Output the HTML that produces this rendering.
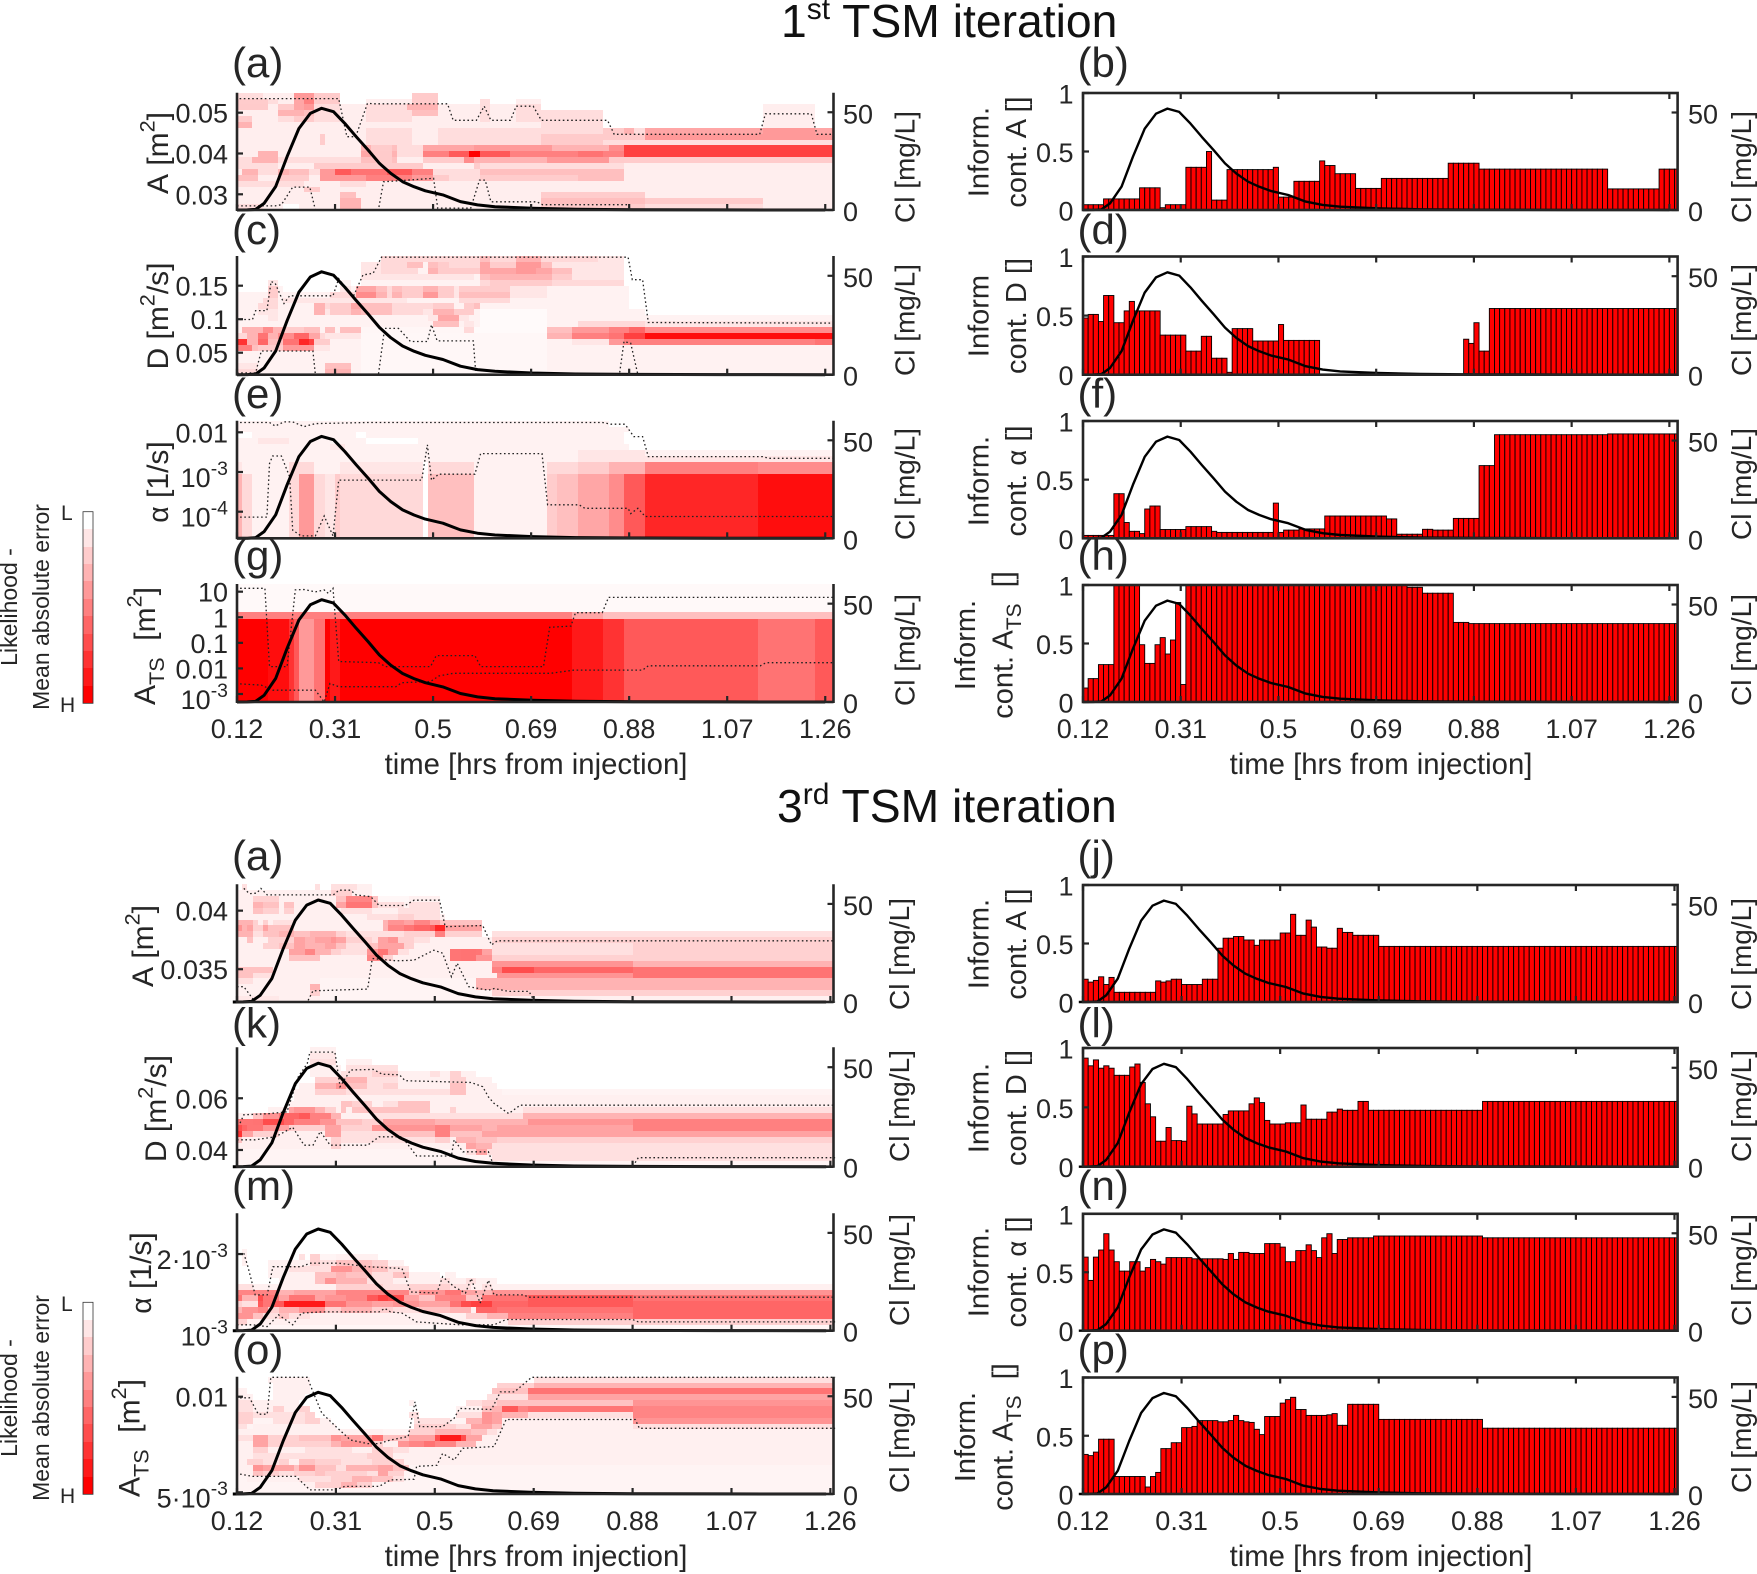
<!DOCTYPE html>
<html lang="en">
<head>
<meta charset="utf-8">
<title>TSM iteration chart</title>
<style>
html,body{margin:0;padding:0;background:#fff;}
svg{display:block;font-family:"Liberation Sans",Arial,sans-serif;fill:#262626;}
</style>
</head>
<body>
<svg id="chart" xmlns="http://www.w3.org/2000/svg" width="1757" height="1574" viewBox="0 0 1757 1574">
<rect x="0" y="0" width="1757" height="1574" fill="#fff"/>
<text x="781" y="37" font-size="46.3" fill="#111">1<tspan font-size="30" dy="-18">st</tspan><tspan dy="18"> TSM iteration</tspan></text>
<text x="777" y="822" font-size="46.3" fill="#111">3<tspan font-size="30" dy="-18">rd</tspan><tspan dy="18"> TSM iteration</tspan></text>
</svg>
<script>
// ---------- shared series ----------
const xTicks = [0.12, 0.31, 0.5, 0.69, 0.88, 1.07, 1.26];
const xTickLabels = ['0.12', '0.31', '0.5', '0.69', '0.88', '1.07', '1.26'];
const clTicks = [0, 50];
const infoTicks = [0, 0.5, 1];
const infoTickLabels = ['0', '0.5', '1'];
const clTime = [0.12,0.14,0.156,0.1725,0.195,0.217,0.24,0.262,0.284,0.307,0.329,0.351,0.374,0.396,0.418,0.441,0.463,0.485,0.519,0.553,0.586,0.62,0.692,0.776,0.888,1.055,1.26];
const clValue = [0,0.05,0.3,3.4,12,27.3,41.7,49.4,52,50.3,44.3,37.5,30.7,23.9,18.7,14.5,11.9,9.8,7.7,4.3,2.6,1.7,0.85,0.35,0.17,0.05,0];
const colorbarLevels = [0,2,4,6,8,10,12,14,16,18,20];

// ---------- informative content bars (one value per time step) ----------
const barsB = [.045,.045,.045,.045,.095,.095,.095,.095,.095,.095,.095,.19,.19,.19,.19,.02,.045,.045,.045,.045,.365,.365,.365,.365,.5,.085,.085,.085,.345,.345,.345,.345,.345,.345,.345,.345,.345,.365,.11,.11,.11,.245,.245,.245,.245,.245,.42,.38,.38,.31,.31,.31,.31,.185,.185,.185,.185,.185,.27,.27,.27,.27,.27,.27,.27,.27,.27,.27,.27,.27,.27,.4,.4,.4,.4,.4,.4,.35,.35,.35,.35,.35,.35,.35,.35,.35,.35,.35,.35,.35,.35,.35,.35,.35,.35,.35,.35,.35,.35,.35,.35,.35,.18,.18,.18,.18,.18,.18,.18,.18,.18,.18,.35,.35,.35,.35];
const barsD = [.48,.51,.51,.45,.67,.67,.44,.44,.54,.62,.54,.54,.54,.54,.54,.335,.335,.335,.335,.335,.2,.2,.2,.325,.325,.14,.14,.14,.02,.39,.39,.39,.39,.285,.285,.285,.285,.285,.425,.29,.29,.29,.29,.29,.29,.29,.005,.005,.005,.005,.005,.005,.005,.005,.005,.005,.005,.005,.005,.005,.005,.005,.005,.005,.005,.005,.005,.005,.005,.005,.005,.005,.005,.005,.3,.265,.44,.2,.2,.56,.56,.56,.56,.56,.56,.56,.56,.56,.56,.56,.56,.56,.56,.56,.56,.56,.56,.56,.56,.56,.56,.56,.56,.56,.56,.56,.56,.56,.56,.56,.56,.56,.56,.56,.56,.56];
const barsF = [.025,.025,.025,.025,.025,.025,.38,.38,.135,.06,.06,.04,.25,.275,.275,.075,.075,.075,.075,.075,.1,.1,.1,.1,.1,.06,.05,.05,.05,.05,.05,.05,.05,.05,.05,.05,.05,.3,.05,.07,.07,.07,.08,.08,.08,.08,.08,.19,.19,.19,.19,.19,.19,.19,.19,.19,.19,.19,.19,.165,.165,.035,.035,.035,.035,.035,.077,.077,.07,.07,.07,.07,.17,.17,.17,.17,.17,.62,.62,.62,.883,.883,.883,.883,.883,.883,.883,.883,.883,.883,.883,.883,.883,.883,.883,.883,.883,.883,.883,.883,.883,.883,.89,.89,.89,.89,.89,.89,.89,.89,.89,.89,.89,.89,.89,.89];
const barsH = [.12,.2,.2,.32,.32,.32,1,1,1,1,1,.49,.33,.33,.49,.55,.41,.53,.85,.15,1,1,1,1,1,1,1,1,1,1,1,1,1,1,1,1,1,1,1,1,1,1,1,1,1,1,1,1,1,1,1,1,1,1,1,1,1,1,1,1,1,1,1,.98,.98,.98,.93,.93,.93,.93,.93,.93,.68,.68,.68,.67,.67,.67,.67,.67,.67,.67,.67,.67,.67,.67,.67,.67,.67,.67,.67,.67,.67,.67,.67,.67,.67,.67,.67,.67,.67,.67,.67,.67,.67,.67,.67,.67,.67,.67,.67,.67,.67,.67,.67,.67,.67];
const barsJ = [.195,.17,.185,.215,.15,.21,.083,.083,.083,.083,.083,.083,.083,.083,.18,.17,.18,.195,.195,.15,.15,.15,.15,.195,.195,.195,.46,.545,.545,.56,.56,.53,.53,.485,.53,.53,.53,.53,.59,.59,.75,.57,.57,.7,.64,.47,.47,.46,.46,.63,.595,.595,.57,.57,.57,.57,.57,.475,.475,.475,.475,.475,.475,.475,.475,.475,.475,.475,.475,.475,.475,.475,.475,.475,.475,.475,.475,.475,.475,.475,.475,.475,.475,.475,.475,.475,.475,.475,.475,.475,.475,.475,.475,.475,.475,.475,.475,.475,.475,.475,.475,.475,.475,.475,.475,.475,.475,.475,.475,.475,.475,.475,.475,.475,.475];
const barsL = [.915,.85,.9,.83,.85,.83,.77,.77,.77,.84,.865,.71,.53,.42,.215,.215,.33,.22,.22,.215,.51,.445,.36,.36,.36,.36,.36,.44,.47,.47,.47,.47,.53,.58,.54,.39,.36,.36,.36,.37,.37,.37,.52,.4,.4,.4,.4,.46,.46,.485,.475,.475,.475,.55,.55,.475,.475,.475,.475,.475,.475,.475,.475,.475,.475,.475,.475,.475,.475,.475,.475,.475,.475,.475,.475,.475,.475,.55,.55,.55,.55,.55,.55,.55,.55,.55,.55,.55,.55,.55,.55,.55,.55,.55,.55,.55,.55,.55,.55,.55,.55,.55,.55,.55,.55,.55,.55,.55,.55,.55,.55,.55,.55,.55,.55,.55];
const barsN = [.63,.43,.63,.69,.83,.69,.59,.51,.51,.59,.59,.51,.54,.61,.59,.57,.625,.625,.625,.625,.625,.615,.615,.615,.615,.615,.615,.61,.66,.61,.67,.67,.66,.66,.66,.745,.745,.745,.715,.59,.59,.685,.685,.735,.685,.625,.795,.83,.66,.78,.78,.795,.795,.795,.795,.795,.81,.81,.81,.81,.81,.81,.81,.81,.81,.81,.81,.81,.81,.81,.81,.81,.81,.81,.81,.81,.81,.795,.795,.795,.795,.795,.795,.795,.795,.795,.795,.795,.795,.795,.795,.795,.795,.795,.795,.795,.795,.795,.795,.795,.795,.795,.795,.795,.795,.795,.795,.795,.795,.795,.795,.795,.795,.795,.795,.795];
const barsP = [.34,.33,.36,.47,.47,.47,.15,.15,.15,.15,.15,.15,.06,.15,.185,.39,.39,.44,.44,.57,.57,.58,.63,.63,.63,.63,.62,.62,.63,.675,.63,.62,.615,.555,.51,.665,.665,.665,.78,.81,.83,.725,.725,.675,.675,.675,.675,.68,.69,.59,.59,.77,.77,.77,.77,.77,.77,.64,.64,.64,.64,.64,.64,.64,.64,.64,.64,.64,.64,.64,.64,.64,.64,.64,.64,.64,.64,.565,.565,.565,.565,.565,.565,.565,.565,.565,.565,.565,.565,.565,.565,.565,.565,.565,.565,.565,.565,.565,.565,.565,.565,.565,.565,.565,.565,.565,.565,.565,.565,.565,.565,.565,.565,.565,.565,.565];

// ---------- likelihood heatmaps: rows top to bottom, each [level, columnCount, level, columnCount, ...] ----------
const heatA1 = [
[2,5,1,6,8,4,3,5,0,14,3,5,0,77],
[4,6,2,2,1,3,7,2,10,2,3,5,0,5,1,9,3,5,0,8,2,2,0,5,1,5,0,57],
[3,6,1,2,3,3,7,2,8,2,2,5,1,5,2,8,6,6,1,8,2,2,1,5,2,5,0,43,1,10,0,4],
[1,8,6,3,6,2,5,2,2,5,1,5,2,9,5,5,1,8,2,2,1,5,2,5,2,12,0,31,1,10,0,4],
[4,2,3,1,1,5,2,3,3,4,2,5,1,5,2,9,1,5,1,8,2,2,1,5,2,5,2,12,0,31,1,10,0,4],
[6,3,1,5,1,12,1,5,1,9,1,5,1,8,1,2,1,5,1,5,2,12,0,4,0,27,1,10,0,4],
[1,20,1,5,2,9,1,5,2,8,2,2,2,5,2,5,2,12,3,4,6,2,2,2,7,23,8,10,7,4],
[1,16,3,1,1,8,2,9,1,5,2,8,2,12,3,12,3,8,8,37],
[1,16,4,1,1,8,2,9,1,5,2,20,3,12,2,45],
[1,24,6,2,4,4,5,1,2,5,7,10,8,15,6,11,9,3,15,41],
[1,4,6,4,1,16,7,2,3,4,6,1,2,5,10,5,13,4,20,2,13,6,10,7,10,6,11,5,10,4,15,41],
[2,3,6,5,2,16,5,3,3,3,5,1,1,5,4,8,9,2,6,7,6,7,8,12,3,3,4,41],
[2,8,1,7,3,21,1,10,4,1,2,28,1,41],
[1,1,6,3,2,4,6,2,5,4,2,2,8,3,13,3,11,7,13,5,10,4,2,9,5,28,1,41],
[5,4,1,4,4,2,4,4,1,2,8,9,10,9,8,4,3,3,2,6,4,19,5,9,1,41],
[2,13,1,7,2,5,1,91],
[1,13,3,3,1,100],
[1,20,5,3,1,36,4,20,1,37],
[1,20,6,4,1,24,1,11,5,20,3,23,1,14],
[2,5,1,4,0,3,1,8,6,4,1,35,3,16,4,4,2,23,1,14]
];
const heatC1 = [
[0,28,3,19,5,2,3,5,6,5,3,11,2,5,0,41],
[0,24,2,4,3,5,5,3,1,1,5,2,4,2,3,6,7,2,4,5,8,5,5,2,2,14,0,41],
[0,24,2,4,3,7,1,2,6,2,4,8,7,2,7,5,8,4,7,3,5,4,2,10,0,41],
[0,24,2,22,1,1,5,2,6,12,4,4,2,10,0,41],
[0,6,2,2,0,12,1,2,0,2,1,23,3,2,4,12,3,14,0,41],
[0,6,4,2,1,1,0,11,2,2,1,1,7,4,5,2,3,1,5,2,4,4,6,3,4,3,2,1,4,10,2,7,1,16,0,40],
[1,6,4,2,1,10,3,5,9,4,6,2,3,1,6,2,4,4,8,3,4,3,2,1,5,10,2,7,1,16,0,40],
[1,5,3,3,1,1,2,24,1,10,3,10,1,23,0,40],
[1,4,3,4,1,7,6,2,3,1,4,4,7,2,5,6,3,8,4,4,1,2,4,2,5,1,1,29,0,40],
[1,4,2,4,1,7,6,2,2,1,4,4,6,2,5,6,3,6,2,2,6,4,4,2,4,2,1,1,0.4,13,1,19,0,39],
[1,6,2,2,1,29,2,2,7,4,2,2,1,2,0.4,13,1,19,1,37],
[1,38,5,5,1,1,2,2,1,1,0.4,13,1,6,3,13,2,37],
[1,1,6,4,9,2,6,2,4,4,5,3,1,1,5,2,1,1,5,4,0.7,20,3,2,0.4,14,5,5,8,7,10,4,12,3,9,37],
[3,2,6,2,11,2,6,2,9,3,12,3,7,2,3,1,2,7,0.6,36,6,5,10,7,11,3,15,4,19,37],
[16,2,6,2,12,2,5,3,11,3,17,2,15,1,4,3,1,6,0.6,36,1,5,2,7,8,3,10,37,11,4],
[10,3,5,1,4,5,8,6,2,3,1,6,0.6,36,1,56],
[1,24,0.6,36,1,56],
[1,24,0.6,36,1,56],
[2,4,1,13,5,5,1,2,0.6,36,1,56],
[3,4,1,13,6,5,1,2,0.6,36,1,56]
];
const heatE1 = [
[1,72,0,44],
[1,76,0,40],
[0,3,1,20,0,2,1,50,0,41],
[1,4,2,6,1,15,0,10,1,40,0,41],
[1,3,1,15,2,3,1,55,0,39],
[1,66,2,13,1,22,1,15],
[1,66,2,13,2,37],
[2,1,1,9,3,5,1,5,2,16,0,1,3,9,1,14,3,6,4,6,6,7,10,22,9,15],
[2,1,1,9,3,5,1,5,2,16,0,1,3,9,1,14,3,6,4,6,6,7,10,22,9,15],
[6,1,3,2,1,7,3,2,8,3,3,2,2,2,4,1,3,16,0,1,5,9,1,14,4,2,5,4,7,6,9,3,13,4,17,22,19,15],
[6,1,3,2,1,7,3,2,8,3,3,2,2,2,4,1,3,16,0,1,5,9,1,14,4,2,5,4,7,6,9,3,13,4,17,22,19,15],
[6,1,3,2,1,7,3,2,8,3,3,2,2,2,4,1,3,16,0,1,5,9,1,14,4,2,5,4,7,6,9,3,13,4,17,22,19,15],
[6,1,3,2,1,7,3,2,8,3,3,2,2,2,4,1,3,16,0,1,5,9,1,14,4,2,5,4,7,6,9,3,13,4,17,22,19,15],
[6,1,3,2,1,7,3,2,8,3,3,2,2,2,4,1,3,16,0,1,5,9,1,14,4,2,5,4,7,6,9,3,13,4,17,22,19,15],
[6,1,3,2,1,7,3,2,8,3,3,2,2,2,4,1,3,16,0,1,5,9,1,14,4,2,5,4,7,6,9,3,13,4,17,22,19,15],
[6,1,3,2,1,7,3,2,8,3,3,2,2,2,4,1,3,16,0,1,5,9,1,14,4,2,5,4,7,6,9,3,13,4,17,22,19,15],
[6,1,3,2,1,7,3,2,8,3,3,2,2,2,4,1,3,16,0,1,5,9,1,14,4,2,5,4,7,6,9,3,13,4,17,22,19,15],
[6,1,3,2,1,7,3,2,8,3,3,2,2,2,4,1,3,16,0,1,5,9,1,14,4,2,5,4,7,6,9,3,13,4,17,22,19,15],
[6,1,3,2,1,7,3,2,8,3,3,2,2,2,4,1,3,16,0,1,5,9,1,14,4,2,5,4,7,6,9,3,13,4,17,22,19,15],
[6,1,3,2,1,7,3,2,8,3,3,2,2,2,4,1,3,16,0,1,5,9,1,14,4,2,5,4,7,6,9,3,13,4,17,22,19,15]
];
const rowG1Top = [0.5,116];
const rowG1Band = [10,65,7,6,5,45];
const rowG1Main = [20,6,19,4,16,1,13,1,8,3,11,2,20,1,18,2,20,45,18,6,16,4,13,26,11,11,13,4];
const heatG1 = [rowG1Top,rowG1Top,rowG1Top,rowG1Top,rowG1Top,rowG1Top,rowG1Top,rowG1Band,rowG1Band,
rowG1Main,rowG1Main,rowG1Main,rowG1Main,rowG1Main,rowG1Main,rowG1Main,rowG1Main,rowG1Main,rowG1Main,rowG1Main,
rowG1Main,rowG1Main,rowG1Main,rowG1Main,rowG1Main,rowG1Main,rowG1Main,rowG1Main,rowG1Main,rowG1Main];
const heatA2 = [
[0,1,2,1,0,13,2,1,0,2,2,5,1,3,0,87],
[1,18,3,4,1,4,0,89],
[1,3,3,5,1,11,4,2,8,5,4,1,0.5,6,1,6,0,76],
[1,3,5,2,4,3,1,1,4,2,1,8,6,2,9,5,4,1,2,5,1,1,2,6,0,76],
[1,3,4,2,3,3,1,1,3,2,1,9,2,6,1,5,2,2,2,6,0,76],
[1,25,2,6,3,3,2,5,1,1,0,75],
[5,3,3,1,1,1,3,1,1,1,2,4,1,17,5,1,7,3,6,2,8,3,6,2,4,8,0,68],
[7,1,5,1,6,1,3,2,6,1,4,5,1,17,5,1,8,3,9,2,12,3,13,1,17,2,6,7,0,68],
[5,3,2,2,4,3,5,3,4,3,5,2,5,3,3,2,2,11,3,6,10,2,3,7,0,2,2,66],
[1,2,4,1,1,3,3,5,6,2,5,2,6,3,7,1,6,2,3,5,2,1,6,2,7,2,3,3,2,3,1,12,3,66],
[1,5,3,3,4,3,6,2,5,4,6,2,4,2,2,4,4,2,6,2,6,3,3,2,1,15,2,27,3,39],
[1,10,6,3,8,2,5,3,3,2,2,5,7,2,9,2,6,2,2,2,1,8,9,2,11,3,9,1,6,2,2,27,3,39],
[1,10,4,6,1,9,8,3,3,2,1,11,9,2,11,3,7,3,3,27,3,39],
[1,49,7,27,5,39],
[4,7,1,42,10,2,14,6,12,19,11,39],
[4,3,2,4,1,43,7,26,11,39],
[2,3,1,11,1,2,0.7,30,5,3,5,66],
[1,14,5,2,0.7,30,5,3,5,66],
[1,14,3,2,0.7,33,3,66],
[1.5,8,1,8,0.7,33,1,66]
];
const heatK2 = [
[0,14,1,5,0,96],
[0,14,1.5,5,0,96],
[0,14,2,5,0,2,1,5,0,88],
[0,14,1,6,0,1,2,10,0,84],
[0,14,1,6,2,6,3,5,1,6,2,2,1,2,3,2,1,3,0,67],
[0,15,3,6,5,4,2,6,1,10,3,3,1,5,0,63],
[0,12,1,3,5,4,7,2,4,4,2,3,3,3,1,10,4,3,1,6,0,65],
[0,11,1,4,3,6,2,20,4,3,1,7,0.7,64],
[0,11,1,44,1,60],
[0,10,1,10,4,2,3,4,1,2,2,3,4,6,1,18,1,60],
[0,6,1,4,6,1,7,4,5,2,3,2,1,1,4,1,1,1,4,15,1,4,3,1,1,13,2,60],
[1,3,4,2,7,3,9,1,12,3,13,2,10,4,5,2,1,6,2,29,5,60],
[9,3,11,2,14,4,12,2,10,5,7,3,4,5,3,4,6,10,5,18,7,20,10,39],
[14,1,12,1,9,3,7,3,6,2,3,7,6,3,3,6,7,12,10,3,6,6,5,3,6,26,10,39],
[16,1,6,2,3,5,1,9,6,3,2,10,4,8,10,3,4,6,6,3,6,65],
[4,1,1,17,3,2,2,18,3,3,1,1,5,4,4,4,3,65],
[1,18,3,2,1,24,6,2,5,3,2,66],
[0.7,44,2,2,6,2,2,67],
[0.7,49,2,66],
[0.7,115]
];
const heatM2 = [
[0,115],
[0,115],
[0,115],
[0,115],
[0,115],
[0,115],
[0,1,1,1,0,113],
[0,1,1,1,0,10,2,1,0,1,3,2,0.7,3,1,8,0,88],
[0,1,1,1,0,4,1,8,3,2,2,3,4,7,3,3,1,3,0,83],
[0,6,1,4,2,8,7,4,5,4,4,3,2,4,0,82],
[0,6,1,9,4,4,5,2,4,5,2,4,4,3,1,6,0,1,1,2,0,73],
[0,8,1,7,4,2,7,2,5,6,2,5,1,9,2,2,1,3,2,2,1,4,0,65],
[2,3,1,16,3,9,2,5,3,8,2,4,1,2,2,2,1,6,1,60],
[8,8,5,3,6,8,8,14,4,2,7,5,9,3,6,3,5,3,7,66],
[9,1,5,3,14,1,9,3,6,2,9,5,6,2,7,4,8,4,13,2,15,2,14,3,6,3,4,3,8,3,10,3,4,3,11,9,13,20,11,39],
[3,1,2,3,13,1,9,2,13,2,18,8,11,4,7,5,6,4,7,5,6,3,6,3,11,2,14,2,15,4,12,7,13,20,12,39],
[5,1,7,3,8,2,3,2,5,4,7,5,3,3,5,6,3,4,2,5,4,6,5,4,1,1,12,4,11,26,12,39],
[7,3,4,2,2,3,4,2,2,4,1,30,3,4,5,4,10,24,12,39],
[3,2,1,46,1,4,3,63],
[1,1,0.6,114]
];
const heatO2 = [
[0,6,1,8,0,43,2,58],
[0,7,1,7,0,36,3,7,5,58],
[1,2,0,5,1,7,0,35,4,7,11,59],
[1,3,0,4,1,6,0,35,2,8,6,59],
[2,3,1,4,1,5,0,21,1,1,0,10,2,3,3,3,4,26,7,39],
[2,3,1,4,3,2,1,3,3,2,0,28,1,5,4,2,5,2,13,3,8,2,9,20,8,39],
[3,3,2,4,2,6,3,2,0,18,2,2,0,7,2,5,7,2,6,2,5,5,2,20,8,39],
[3,3,0.7,4,2,6,3,3,1,2,0,16,2,7,0.7,3,5,3,7,2,6,2,1,25,7,39],
[2,2,0.7,1,1,14,1,2,0,15,3,8,2,3,6,4,4,2,1,25,2,39],
[1,26,1,2,0.7,5,3,5,5,7,4,3,2,2,1,65],
[2,3,6,3,3,6,4,6,7,2,6,6,9,2,4,5,6,5,14,1,18,4,14,1,6,3,1,68],
[1,3,6,3,3,12,5,2,7,6,3,2,1,3,7,2,8,3,11,2,8,4,5,4,1,69],
[1,3,3,3,1,7,2,9,1,4,3,4,2,3,1,82],
[1,3,2,22,3,5,1,85],
[1,2,3,3,2,3,3,2,1,2,4,3,3,5,2,6,3,6,1,83],
[1,3,7,2,6,6,4,1,7,3,4,4,2,2,5,6,6,3,4,3,0.7,82],
[1,3,4,2,3,3,2,3,3,4,4,2,3,8,2,2,6,2,3,3,0.7,83],
[0.7,2,1,10,2,6,3,4,5,4,4,4,2,2,0.7,83],
[0.7,13,1,2,3,5,5,3,3,3,0.7,89],
[0.7,115]
];

// ---------- uncertainty bounds: [column, grid row, column, grid row, ...] ----------
const upperA1 = [0.5,19,19.7,19,21.3,12.5,23,12.5,25.3,18.2,26.4,18.1,40.8,18.1,41.9,15.3,46.4,15.3,47.9,17.7,49.2,15.3,53,15.3,54.1,17.7,57.4,17.7,59,15.3,71.8,15.3,73.1,12.9,101.3,12.9,102.4,16.4,111.3,16.4,112.4,12.9,115.4,12.9];
const lowerA1 = [0,0.7,7.4,0.7,8.6,0.9,10.8,3.9,14.1,3.9,15.2,0,27.4,0,28.4,4.8,38.1,5.4,38.9,0.3,45.3,0.3,47,5.1,48.1,5.1,49.2,1.4,58.1,1.4,59.2,0.9,75.8,0.9,76.4,0,115.4,0];
const upperC1 = [0.6,9.3,3,9.3,3.6,10.8,5.8,10.8,6.6,15.7,7.4,15.4,9.1,12,10.2,13.3,18.6,13.3,19.7,16.2,22.5,13.1,24.4,16.8,26.4,17.1,28,19.8,75.8,19.8,76.6,16,78.6,16,79.7,8.8,115.4,8.7];
const lowerC1 = [0,0.3,3.6,0.3,4.7,4,14.7,4,15.2,0,27.4,0,28.6,7.8,31.3,7.8,33.6,5.6,36.9,5.6,37.7,8.4,38.8,5.7,45.8,5.7,46.3,0,74.1,0,75,5.6,76.3,5.3,77.7,0,115.4,0];
const upperE1 = [0.6,19.7,6.3,19.7,7.4,19.1,9.1,19.8,10.8,19.8,13,19,15.2,19.5,25.2,19.7,70.8,19.7,72.5,19.4,75.2,19.4,76.9,17.3,78.6,17.3,79.7,13.9,101.9,13.9,103,13.6,115.4,13.6];
const lowerE1 = [0.6,3.6,5.8,3.6,6.3,12.7,6.9,14,8.6,14,10.2,10.5,10.8,1.4,12.4,0.4,15.2,0.4,16.9,3.8,18.6,0.4,19.7,9.9,35.8,9.9,36.9,15.9,37.7,9.9,39.1,10.9,46.1,10.9,47.2,14.4,59.1,14.4,60.2,5.7,66.3,5.7,67.4,5.1,75.8,5.1,76.3,4.2,77.7,5.1,79.1,3.7,115.4,3.7];
const upperG1 = [0.6,28.9,5.4,28.9,6.3,9,9.7,9,11.3,28.5,13,28.6,15.2,28,16.9,28.5,17.7,27.6,18.6,28.9,19.7,10.3,27.4,10,28.8,9,37.5,9,38.6,11.8,46.1,11.8,47.2,9,59.4,9,60.6,19,64.7,19.3,65.6,22.7,70.8,22.7,72,26.6,115.4,26.6];
const lowerG1 = [0.6,4.6,4.7,4.3,6.9,3,15.2,3,16.9,0,18,4.7,19.7,3.9,30.8,3.9,31.9,4.9,37.5,5.2,39.1,6.6,41.9,7.3,60.8,7.3,65.3,8.1,78.6,8.1,79.7,9.2,101.4,9.2,102.5,10,115.4,10];
const upperA2 = [1.3,19.3,2.4,18.4,3.8,18.5,4.6,19.3,5.8,18.2,18.5,18.2,19.6,19,21.8,19,22.9,18.2,25.7,17.9,27.3,16.4,32.3,16.4,34,17.3,38.9,17.3,40,12.8,47.2,13,48.9,9.7,50,10.4,114.9,10.4];
const lowerA2 = [0,2.6,1.3,2.6,3.5,0,13.5,0,14.6,1.9,25.1,2.2,26,7.4,30.6,7,34,7.1,37.8,8.8,39.5,8.3,41.2,4.3,42.3,6.6,44.5,2.6,48.3,2,49.4,2.3,52.2,1.8,56.1,1.8,57.2,0,114.9,0];
const upperK2 = [0.6,7.3,1.3,8.7,6.3,8.9,9.6,9.2,11.8,15.1,13.5,17.3,14,19.2,18.8,19.2,19.8,13.4,21.8,16.2,26.2,16.3,27.9,15.5,31.2,15.4,32.3,14.4,45,14.1,47.2,13.4,48.3,11.7,49.4,10.6,52.2,8.9,54.4,10.3,114.9,10.3];
const lowerK2 = [0,4.5,3.5,4.5,7.4,5,10.7,6.6,12.9,3.6,14.6,3.6,16,5.9,17.9,3.6,25.1,3.6,27.3,5,31.7,5,34.5,1.8,41.2,1.8,41.7,4.5,43.4,2.5,48.3,2.5,49.4,0,76,0,77.1,1.5,114.9,1.5];
const upperM2 = [1.3,13.2,2.1,10.9,3.5,6.1,5.8,6.1,6.9,10.9,12.4,10.9,14,11.5,19.6,11.5,25.1,10.9,31.7,10.6,33.4,6.6,38.4,6.4,39.5,9.2,41.7,7.5,43.9,6.4,45,8.9,46.7,4.7,48.3,8.6,49.4,6.1,55,6.1,56.1,5.7,114.9,5.7];
const lowerM2 = [0,1,3,1,5.8,0.7,8,2.7,10.7,1,12.4,3,16.3,3.2,27.3,3.2,28.4,3.8,29.5,3.2,31.7,3,34.5,1.5,42.8,1,49.4,1,51.7,1.9,76,1.9,77.1,1.5,114.9,1.5];
const upperO2 = [0.6,16.4,2.4,16.4,4.1,13.6,5.8,13.6,6.5,19.9,13.5,19.9,14.6,17.4,16.3,13.8,19,11.5,21.8,9.2,25.1,8.6,27.3,8.6,29.5,9.2,32.9,9.8,34.2,15.7,35.1,11.5,39.5,11.5,41.7,12.9,42.8,14.6,48.9,14.4,50.6,17.4,53.3,17.4,56.6,19.9,114.9,19.9];
const lowerO2 = [0.6,3.4,3,3,11.3,3,14,0.7,19,0.7,20.7,1.3,27.3,1.3,29.5,2.4,34,2.5,34.5,4.7,38.4,4.9,39.5,6.9,41.7,5.8,43.4,7.8,49.4,8.1,51.7,12.7,76.5,12.7,77.3,11.2,114.9,11.2];

// ---------- parameter axes ----------
const ticksA1 = [0.03,0.04,0.05];
const labelsA1 = ['0.03','0.04','0.05'];
const ticksC1 = [0.05,0.1,0.15];
const labelsC1 = ['0.05','0.1','0.15'];
const ticksE1 = [0.0001,0.001,0.01];
const labelsE1 = [['10','-4'],['10','-3'],'0.01'];
const ticksG1 = [0.001,0.01,0.1,1,10];
const labelsG1 = [['10','-3'],'0.01','0.1','1','10'];
const ticksA2 = [0.035,0.04];
const labelsA2 = ['0.035','0.04'];
const ticksK2 = [0.04,0.06];
const labelsK2 = ['0.04','0.06'];
const ticksM2 = [0.001,0.002];
const labelsM2 = [['10','-3'],['2·10','-3']];
const ticksO2 = [0.005,0.01];
const labelsO2 = [['5·10','-3'],'0.01'];

const NS = 'http://www.w3.org/2000/svg';
const svg = document.getElementById('chart');
const GAP = '\u00a0\u00a0';

function mk(tag, parent, attrs) {
  const e = document.createElementNS(NS, tag);
  for (const k in attrs) e.setAttribute(k, attrs[k]);
  parent.appendChild(e);
  return e;
}
function txt(parent, x, y, size, anchor, runs, rotate) {
  const attrs = {x: x, y: y, 'font-size': size, 'text-anchor': anchor};
  if (rotate) attrs.transform = 'rotate(-90 ' + x + ' ' + y + ')';
  const t = mk('text', parent, attrs);
  let shift = 0;
  runs.forEach(function (r) {
    const s = typeof r === 'string' ? r : r[0];
    const kind = typeof r === 'string' ? '' : r[1];
    const target = kind === 'sup' ? -0.45 * size : kind === 'sub' ? 0.3 * size : 0;
    const sp = mk('tspan', t, {dy: target - shift});
    if (kind === 'sup' || kind === 'sub') sp.setAttribute('font-size', size * 0.72);
    if (kind === 'small') sp.setAttribute('font-size', size * 0.95);
    sp.textContent = s;
    shift = target;
  });
  return t;
}
function levelColor(l, boost, limit) {
  const lv = boost && l <= limit ? l * boost : l;
  const v = Math.round(255 * (1 - lv / 20));
  return 'rgb(255,' + v + ',' + v + ')';
}
function pairsToPoints(pairs, xf, yf) {
  const pts = [];
  for (let i = 0; i < pairs.length; i += 2) pts.push(xf(0.12 + pairs[i] * 0.01).toFixed(1) + ',' + yf(pairs[i + 1]).toFixed(1));
  return pts.join(' ');
}
function axisLine(g, x1, y1, x2, y2, w) {
  const l = mk('line', g, {x1: x1, y1: y1, x2: x2, y2: y2, stroke: '#262626', 'stroke-width': w});
  return l;
}
function drawCurve(g, xf, top, bottom, shift, width) {
  const yR = function (v) { return bottom - v / 60 * (bottom - top); };
  const pts = clTime.map(function (t, i) { return xf(t + shift).toFixed(1) + ',' + yR(clValue[i]).toFixed(1); }).join(' ');
  const c = mk('polyline', g, {points: pts, fill: 'none', stroke: '#000', 'stroke-width': width, 'stroke-linejoin': 'round'});
  
  
  return yR;
}
function drawXAxis(g, xf, bottom, tickTop, labelBase, titleBase, titleX, showLabels) {
  xTicks.forEach(function (t, i) {
    const tk = axisLine(g, xf(t), bottom, xf(t), bottom - 6, 2.2);
    
    
    if (tickTop !== null) {
      const tk2 = axisLine(g, xf(t), tickTop, xf(t), tickTop + 6, 2.2);
      
      
    }
    if (showLabels) {
      const lb = txt(g, xf(t), labelBase, 27, 'middle', [xTickLabels[i]]);
      
      
    }
  });
  if (showLabels) {
    const tt = txt(g, titleX, titleBase, 29.3, 'middle', ['time [hrs from injection]']);
    
    
  }
}
function drawRightAxis(g, right, yR, labelX, titleBase, titleY) {
  clTicks.forEach(function (v) {
    const tk = axisLine(g, right, yR(v), right - 6, yR(v), 2.2);
    
    
    const lb = txt(g, labelX, yR(v) + 11, 27, 'start', [String(v)]);
    
    
  });
  const tt = txt(g, titleBase, titleY, 28, 'middle', ['Cl [mg/L]'], true);
  
  
}

function heatPanel(p) {
  const L = 237, R = 833.5, H = p.bottom - p.top;
  const g = mk('g', svg, {});
  
  
  const xf = function (t) { return L + (t - 0.12) * (R - L) / (p.xMax - 0.12); };
  const rowH = H / p.heat.length;
  p.heat.forEach(function (row, r) {
    let col = 0;
    const y0 = Math.round(p.top + r * rowH);
    const y1 = Math.round(p.top + (r + 1) * rowH);
    for (let i = 0; i < row.length; i += 2) {
      const level = row[i], n = row[i + 1];
      const x0 = Math.round(xf(0.12 + col * 0.01));
      const x1 = Math.round(Math.min(R, xf(0.12 + (col + n) * 0.01)));
      col += n;
      if (level <= 0 || x1 <= x0) continue;
      const c = mk('rect', g, {x: x0, y: y0, width: x1 - x0, height: y1 - y0, fill: levelColor(level, p.boost, p.limit), 'shape-rendering': 'crispEdges'});
      
      
    }
  });
  const yRow = function (v) { return p.bottom - v * rowH; };
  const up = mk('polyline', g, {points: pairsToPoints(p.upper, xf, yRow), fill: 'none', stroke: '#222', 'stroke-width': 1.3, 'stroke-dasharray': '1.6 2.6'});
  
  
  const lo = mk('polyline', g, {points: pairsToPoints(p.lower, xf, yRow), fill: 'none', stroke: '#222', 'stroke-width': 1.3, 'stroke-dasharray': '1.6 2.6'});
  
  
  const yR = drawCurve(g, xf, p.top, p.bottom, p.shift, 3);

  const al = axisLine(g, L, p.top, L, p.bottom + 1, 2.6);
  
  
  const ab = axisLine(g, L, p.bottom, R, p.bottom, 2.6);
  
  
  const ar = axisLine(g, R, p.top, R, p.bottom + 1, 2.6);
  
  

  const yScale = function (v) {
    const f = p.log ? (Math.log10(v) - Math.log10(p.yMin)) / (Math.log10(p.yMax) - Math.log10(p.yMin)) : (v - p.yMin) / (p.yMax - p.yMin);
    return p.bottom - f * H;
  };
  p.ticks.forEach(function (v, i) {
    const y = yScale(v);
    const tk = axisLine(g, L, y, L + 6, y, 2.2);
    
    
    const s = p.labels[i];
    const lb = typeof s === 'string' ? txt(g, 228, y + 10, 27, 'end', [s]) : txt(g, 228, y + 15, 27, 'end', [s[0], [s[1], 'sup']]);
    
    
  });
  const yt = txt(g, p.titleX, p.titleY, 30, 'middle', p.title, true);
  
  
  const pl = txt(g, 232, p.letterY, 42, 'start', [p.letter]);
  
  

  drawXAxis(g, xf, p.bottom, null, p.labelBase, p.titleBase, 536, p.showX);
  drawRightAxis(g, R, yR, 843, p.clBase, p.clY);
}

function barPanel(p) {
  const L = 1083, R = 1677.6, H = p.bottom - p.top;
  const g = mk('g', svg, {});
  
  
  const xf = function (t) { return L + (t - 0.12) * (R - L) / (p.xMax - 0.12); };
  const yV = function (v) { return p.bottom - v * H; };
  p.bars.forEach(function (v, i) {
    const x0 = xf(0.12 + i * 0.01);
    const x1 = Math.min(R, xf(0.12 + (i + 1) * 0.01));
    if (x1 <= x0) return;
    const b = mk('rect', g, {x: x0.toFixed(2), y: yV(v).toFixed(1), width: (x1 - x0).toFixed(2), height: (v * H).toFixed(1), fill: '#f00', stroke: '#000', 'stroke-width': 0.9});
    
    
  });
  const yR = drawCurve(g, xf, p.top, p.bottom, p.shift, 2.4);
  const box = mk('rect', g, {x: L, y: p.top, width: R - L, height: H, fill: 'none', stroke: '#262626', 'stroke-width': 2.6});
  
  
  infoTicks.forEach(function (v, i) {
    const tk = axisLine(g, L, yV(v), L + 6, yV(v), 2.2);
    
    
    const lb = txt(g, 1073.5, yV(v) + 10.5, 27, 'end', [infoTickLabels[i]]);
    
    
  });
  const t1 = txt(g, p.infoX, p.titleY, 29, 'middle', [p.infoWord], true);
  
  
  const t2 = txt(g, p.infoX + 37.5, p.titleY, 29, 'middle', p.contRuns, true);
  
  
  const pl = txt(g, 1077.5, p.letterY, 42, 'start', [p.letter]);
  
  
  drawXAxis(g, xf, p.bottom, p.top, p.labelBase, p.titleBase, 1381, p.showX);
  drawRightAxis(g, R, yR, 1688, 1751, p.clY);
}

const XMAX1 = 1.276, XMAX2 = 1.266;

[
 {name:'panel-a-first', boost:1.35, limit:3, top:92.7, bottom:210, heat:heatA1, upper:upperA1, lower:lowerA1, yMin:0.02615, yMax:0.0549, log:false, ticks:ticksA1, labels:labelsA1, title:['A\u00a0[m',['2','sup'],']'], titleX:168, titleY:153, letter:'(a)', letterY:77, xMax:XMAX1, shift:0, clBase:914.5, clY:167},
 {name:'panel-c-first', top:256, bottom:374.7, heat:heatC1, upper:upperC1, lower:lowerC1, yMin:0.0172, yMax:0.1943, log:false, ticks:ticksC1, labels:labelsC1, title:['D [m',['2','sup'],'/s]'], titleX:168, titleY:316, letter:'(c)', letterY:244, xMax:XMAX1, shift:0, clBase:914.5, clY:320},
 {name:'panel-e-first', top:420.7, bottom:538.3, heat:heatE1, upper:upperE1, lower:lowerE1, yMin:Math.pow(10,-4.67), yMax:Math.pow(10,-1.708), log:true, ticks:ticksE1, labels:labelsE1, title:[['α','small'],'\u00a0[1/s]'], titleX:168, titleY:482, letter:'(e)', letterY:408, xMax:XMAX1, shift:0, clBase:914.5, clY:484},
 {name:'panel-g-first', top:584, bottom:702, heat:heatG1, upper:upperG1, lower:lowerG1, yMin:Math.pow(10,-3.3125), yMax:Math.pow(10,1.3), log:true, ticks:ticksG1, labels:labelsG1, title:['A',['TS','sub'],GAP+'[m',['2','sup'],']'], titleX:155, titleY:646, letter:'(g)', letterY:570, xMax:XMAX1, shift:0, clBase:914.5, clY:650, showX:true, labelBase:738, titleBase:774},
 {name:'panel-a-third', boost:1.2, limit:9, top:884.3, bottom:1002, heat:heatA2, upper:upperA2, lower:lowerA2, yMin:0.0322, yMax:0.04225, log:false, ticks:ticksA2, labels:labelsA2, title:['A\u00a0[m',['2','sup'],']'], titleX:153, titleY:946, letter:'(a)', letterY:870, xMax:XMAX2, shift:-0.008, clBase:909, clY:954},
 {name:'panel-k-third', boost:1.2, limit:9, top:1047.3, bottom:1166.7, heat:heatK2, upper:upperK2, lower:lowerK2, yMin:0.03354, yMax:0.0797, log:false, ticks:ticksK2, labels:labelsK2, title:['D [m',['2','sup'],'/s]'], titleX:166, titleY:1108.6, letter:'(k)', letterY:1037.7, xMax:XMAX2, shift:-0.008, clBase:909, clY:1106},
 {name:'panel-m-third', boost:1.2, limit:9, top:1213.3, bottom:1330.7, heat:heatM2, upper:upperM2, lower:lowerM2, yMin:0.001, yMax:Math.pow(10,-2.539), log:true, ticks:ticksM2, labels:labelsM2, title:[['α','small'],'\u00a0[1/s]'], titleX:151, titleY:1273, letter:'(m)', letterY:1200, xMax:XMAX2, shift:-0.008, clBase:909, clY:1270},
 {name:'panel-o-third', boost:1.2, limit:9, top:1376.7, bottom:1494, heat:heatO2, upper:upperO2, lower:lowerO2, yMin:Math.pow(10,-2.3064), yMax:Math.pow(10,-1.937), log:true, ticks:ticksO2, labels:labelsO2, title:['A',['TS','sub'],GAP+'[m',['2','sup'],']'], titleX:139.5, titleY:1438, letter:'(o)', letterY:1364, xMax:XMAX2, shift:-0.008, clBase:909, clY:1437, showX:true, labelBase:1530, titleBase:1566}
].forEach(heatPanel);

[
 {name:'panel-b-first', top:93, bottom:210, bars:barsB, infoX:988.5, infoWord:'Inform.', contRuns:['cont. A []'], titleY:152, letter:'(b)', letterY:77, xMax:XMAX1, shift:0, clY:167},
 {name:'panel-d-first', top:256.5, bottom:374.7, bars:barsD, infoX:988.5, infoWord:'Inform', contRuns:['cont. D []'], titleY:316, letter:'(d)', letterY:244, xMax:XMAX1, shift:0, clY:320},
 {name:'panel-f-first', top:421, bottom:538.3, bars:barsF, infoX:988.5, infoWord:'Inform.', contRuns:['cont.\u00a0',['α','small'],'\u00a0[]'], titleY:481, letter:'(f)', letterY:408, xMax:XMAX1, shift:0, clY:484},
 {name:'panel-h-first', top:585, bottom:702, bars:barsH, infoX:975, infoWord:'Inform.', contRuns:['cont. A',['TS','sub'],GAP+'[]'], titleY:645, letter:'(h)', letterY:570, xMax:XMAX1, shift:0, clY:650, showX:true, labelBase:738, titleBase:774},
 {name:'panel-j-third', top:885, bottom:1002, bars:barsJ, infoX:988.5, infoWord:'Inform.', contRuns:['cont. A []'], titleY:944, letter:'(j)', letterY:870, xMax:XMAX2, shift:-0.008, clY:954},
 {name:'panel-l-third', top:1048, bottom:1166.7, bars:barsL, infoX:988.5, infoWord:'Inform.', contRuns:['cont. D []'], titleY:1108, letter:'(l)', letterY:1037.7, xMax:XMAX2, shift:-0.008, clY:1106},
 {name:'panel-n-third', top:1213.8, bottom:1330.7, bars:barsN, infoX:988.5, infoWord:'Inform.', contRuns:['cont.\u00a0',['α','small'],'\u00a0[]'], titleY:1272, letter:'(n)', letterY:1200, xMax:XMAX2, shift:-0.008, clY:1270},
 {name:'panel-p-third', top:1377.5, bottom:1494, bars:barsP, infoX:975, infoWord:'Inform.', contRuns:['cont. A',['TS','sub'],GAP+'[]'], titleY:1437, letter:'(p)', letterY:1364, xMax:XMAX2, shift:-0.008, clY:1437, showX:true, labelBase:1530, titleBase:1566}
].forEach(barPanel);

[{top:511.7, bottom:703.3, lY:520, hY:712, titleY:607},
 {top:1302.3, bottom:1494.3, lY:1311, hY:1503, titleY:1398}].forEach(function (c) {
  const g = mk('g', svg, {});
  
  
  const h = (c.bottom - c.top) / colorbarLevels.length;
  colorbarLevels.forEach(function (l, i) {
    const y0 = Math.round(c.top + i * h);
    const y1 = Math.round(c.top + (i + 1) * h);
    const s = mk('rect', g, {x: 83, y: y0, width: 10, height: y1 - y0, fill: levelColor(l), 'shape-rendering': 'crispEdges'});
    
    
  });
  const f = mk('rect', g, {x: 83, y: c.top, width: 10, height: c.bottom - c.top, fill: 'none', stroke: '#333', 'stroke-width': 0.8});
  
  
  const lt = txt(g, 61, c.lY, 21, 'start', ['L']);
  
  
  const ht = txt(g, 60, c.hY, 21, 'start', ['H']);
  
  
  const t1 = txt(g, 17, c.titleY, 23, 'middle', ['Likelihood -'], true);
  
  
  const t2 = txt(g, 48.8, c.titleY, 23, 'middle', ['Mean absolute error'], true);
  
  
});
</script>
</body>
</html>
